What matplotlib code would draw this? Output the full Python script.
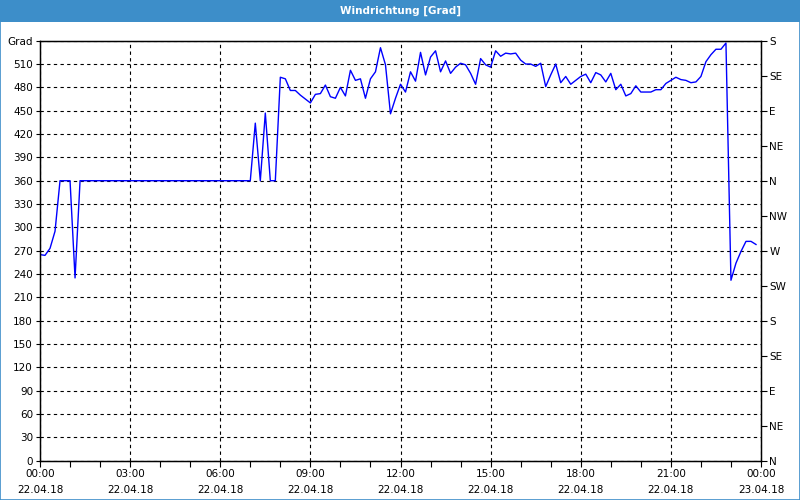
import matplotlib
matplotlib.use("Agg")
import matplotlib.pyplot as plt
from matplotlib.patches import Rectangle
from matplotlib.ticker import MultipleLocator

# wind direction readings, 22.04.18 (time of day, degrees)
times = ["00:00", "00:10", "00:20", "00:30", "00:40", "00:50", "01:00", "01:10", "01:20",
         "07:00", "07:10", "07:20", "07:30", "07:40", "07:50", "08:00", "08:10", "08:20",
         "08:30", "08:40", "08:50", "09:00", "09:10", "09:20", "09:30", "09:40", "09:50",
         "10:00", "10:10", "10:20", "10:30", "10:40", "10:50", "11:00", "11:10", "11:20",
         "11:30", "11:40", "11:50", "12:00", "12:10", "12:20", "12:30", "12:40", "12:50",
         "13:00", "13:10", "13:20", "13:30", "13:40", "13:50", "14:00", "14:10", "14:20",
         "14:30", "14:40", "14:50", "15:00", "15:10", "15:20", "15:30", "15:40", "15:50",
         "16:00", "16:10", "16:20", "16:30", "16:40", "16:50", "17:00", "17:10", "17:20",
         "17:30", "17:40", "17:50", "18:00", "18:10", "18:20", "18:30", "18:40", "18:50",
         "19:00", "19:10", "19:20", "19:30", "19:40", "19:50", "20:00", "20:10", "20:20",
         "20:30", "20:40", "20:50", "21:00", "21:10", "21:20", "21:30", "21:40", "21:50",
         "22:00", "22:10", "22:20", "22:30", "22:40", "22:50", "23:00", "23:10", "23:20",
         "23:30", "23:40", "23:50"]
grad = [265, 264, 273, 295, 360, 360, 360, 235, 360,
        360, 434, 360, 447, 360, 360, 493, 491, 476,
        476, 470, 465, 460, 471, 472, 483, 468, 466,
        480, 469, 502, 489, 491, 466, 491, 500, 531,
        509, 446, 466, 484, 474, 500, 488, 525, 496,
        519, 527, 500, 514, 498, 506, 511, 509, 498,
        484, 517, 509, 506, 527, 520, 524, 523, 524,
        515, 510, 510, 507, 511, 481, 496, 510, 486,
        494, 484, 489, 494, 497, 486, 499, 496, 487,
        498, 477, 484, 469, 472, 482, 474, 474, 474,
        477, 477, 485, 489, 493, 490, 489, 486, 487,
        494, 513, 522, 529, 529, 537, 232, 254, 269,
        282, 282, 278]

hour_ticks = [0, 3, 6, 9, 12, 15, 18, 21, 24]
hour_labels = ["00:00\n22.04.18", "03:00\n22.04.18", "06:00\n22.04.18",
               "09:00\n22.04.18", "12:00\n22.04.18", "15:00\n22.04.18",
               "18:00\n22.04.18", "21:00\n22.04.18", "00:00\n23.04.18"]
grad_ticks = list(range(0, 541, 30))
grad_labels = [str(v) for v in grad_ticks[:-1]] + ["Grad"]
compass_ticks = list(range(0, 541, 45))
compass_labels = ["N", "NE", "E", "SE", "S", "SW", "W", "NW", "N", "NE", "E", "SE", "S"]

hours = [int(t[:2]) + int(t[3:]) / 60 for t in times]

plt.rcParams["font.family"] = ["DejaVu Sans"]
plt.rcParams["font.size"] = 7.5

fig = plt.figure(figsize=(8, 5), dpi=100)
frame = "#3d8ec9"
fig.patches.append(Rectangle((0, 478 / 500), 1, 22 / 500, transform=fig.transFigure,
                             facecolor=frame, edgecolor="none"))
fig.patches.append(Rectangle((0.0006, 0.001), 0.9988, 0.998, transform=fig.transFigure,
                             facecolor="none", edgecolor=frame, linewidth=1.2))
fig.text(0.5, 489 / 500, "Windrichtung [Grad]", color="white", fontweight="bold",
         ha="center", va="center", fontsize=7.5)

ax = fig.add_axes([40 / 800, 39.3 / 500, 721 / 800, 420 / 500])
ax.plot(hours, grad, color="#0000ff", linewidth=1)

ax.set_xlim(0, 24)
ax.set_ylim(0, 540)
ax.set_xticks(hour_ticks)
ax.set_xticklabels(hour_labels, linespacing=1.75)
ax.xaxis.set_minor_locator(MultipleLocator(1))
ax.set_yticks(grad_ticks)
ax.set_yticklabels(grad_labels)
ax.tick_params(axis="both", which="both", direction="out", length=3, width=0.8, pad=2)
ax.tick_params(axis="x", which="both", length=4, pad=2)
ax.grid(True, color="black", linestyle=(0, (3, 3)), linewidth=0.8)
for s in ["top", "bottom", "left", "right"]:
    ax.spines[s].set_linewidth(1)

ax2 = ax.twinx()
ax2.set_ylim(0, 540)
ax2.set_yticks(compass_ticks)
ax2.set_yticklabels(compass_labels)
ax2.tick_params(axis="y", direction="out", length=4, width=0.8, pad=2)

fig.savefig("out.png", dpi=100)
